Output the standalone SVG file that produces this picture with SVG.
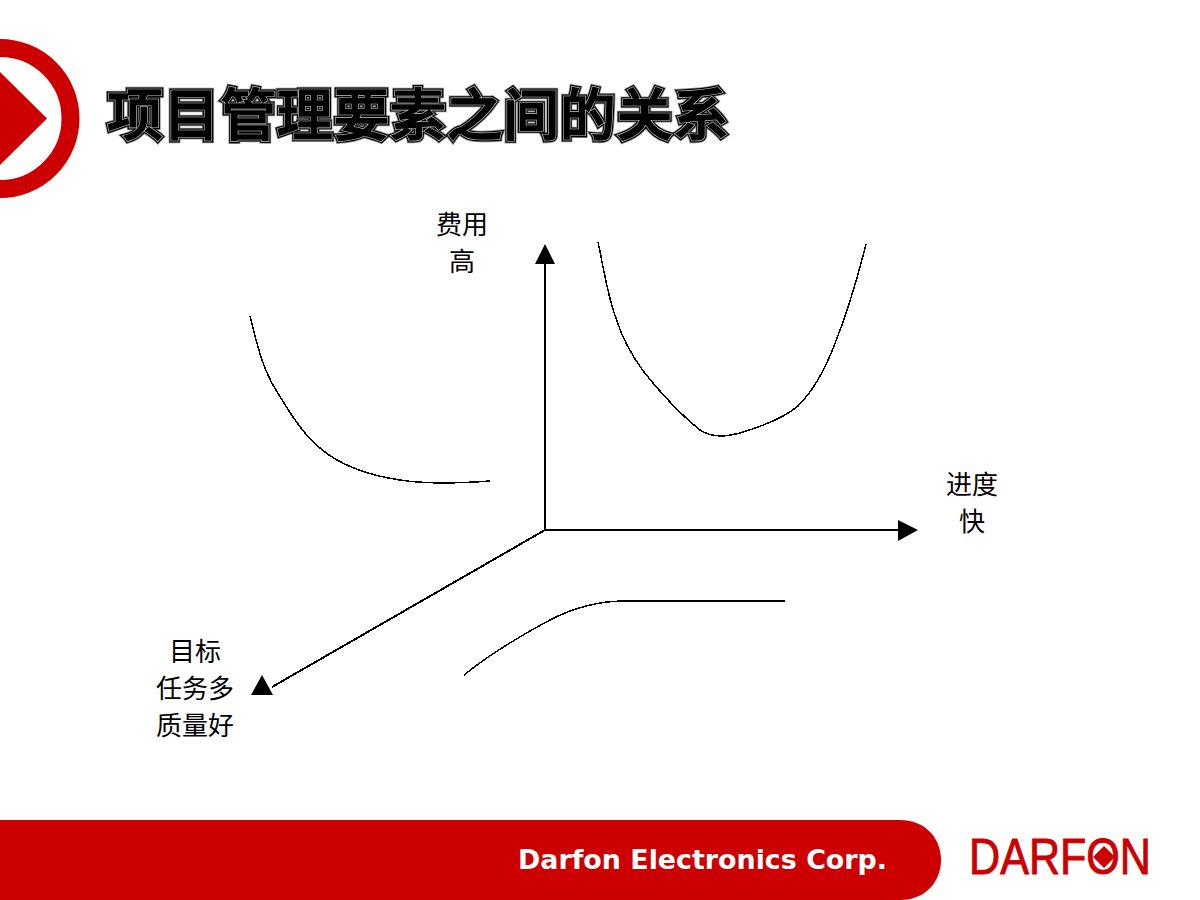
<svg xmlns="http://www.w3.org/2000/svg" width="1200" height="900" viewBox="0 0 1200 900">
<style>
.t{font-family:"Noto Sans CJK SC","Noto Sans CJK TC",sans-serif;font-weight:500;font-size:56px;letter-spacing:.6px;stroke-linejoin:miter}
.l{font-family:"Noto Sans CJK SC",sans-serif;font-size:26px;fill:#000;text-anchor:middle}
.c{fill:none;stroke:#000;stroke-width:1.5;shape-rendering:crispEdges}
.a{fill:none;stroke:#000;stroke-width:2;shape-rendering:crispEdges}
.r{fill:#c00}
</style>
<rect width="1200" height="900" fill="#fff"/>
<g id="badge">
<circle cx="0" cy="118.5" r="70.5" fill="none" stroke="#c00" stroke-width="18"/>
<polygon class="r" points="-1,71 47,118.5 -1,166"/>
</g>
<g id="title">
<text class="t" x="107" y="135" fill="#000" stroke="#999" stroke-width="6.5">项目管理要素之间的关系</text>
<text class="t" x="107" y="135" fill="#000" stroke="#000" stroke-width="5">项目管理要素之间的关系</text>
<text class="t" x="107" y="135" fill="#000" stroke="#ccc" stroke-width="2.6">项目管理要素之间的关系</text>
<text class="t" x="107" y="135" fill="#000" stroke="#000" stroke-width="1.4">项目管理要素之间的关系</text>
</g>
<g id="connectors">
<path class="a" d="M545 530V262"/>
<path class="a" d="M545 530H900"/>
<path class="a" d="M545 530L272 687"/>
<polygon points="545,244 555,264 535,264"/>
<polygon points="918,530 898,520 898,541"/>
<polygon points="262,675 273,695 251,695"/>
<path class="c" d="M250 316C256 340 262 368 276 390C288 410 304 436 320 448C340 466 372 476 400 480C425 484 450 484 490 481"/>
<path class="c" d="M598 242C604 270 608 298 616 318C622 338 632 356 644 372C660 392 680 414 700 430C712 438 726 437 740 433C760 427 784 418 798 406C812 392 824 372 834 346C846 316 856 284 866 244"/>
<path class="c" d="M464 675C490 654 520 636 550 620C575 607 600 601 625 601H785"/>
</g>
<g id="label-cost">
<text class="l" x="462" y="234">费用</text>
<text class="l" x="462" y="271">高</text>
</g>
<g id="label-schedule">
<text class="l" x="972" y="494">进度</text>
<text class="l" x="972" y="531">快</text>
</g>
<g id="label-scope">
<text class="l" x="195" y="661">目标</text>
<text class="l" x="195" y="698">任务多</text>
<text class="l" x="195" y="735">质量好</text>
</g>
<g id="footer">
<path class="r" d="M0 820H900C925 820 941 838 941 860C941 882 925 900 900 900H0Z"/>
<text x="518" y="869" font-family="DejaVu Sans" font-weight="700" font-size="26" fill="#fff" textLength="369" lengthAdjust="spacingAndGlyphs">Darfon Electronics Corp.</text>
</g>
<g id="logo">
<text x="969" y="874" font-family="Liberation Sans" font-size="50" fill="#c00" stroke="#c00" stroke-width=".9" textLength="182" lengthAdjust="spacingAndGlyphs">DARFON</text>
<polygon points="1104,846 1115,857 1104,868 1093,857" fill="#c00"/>
</g>
</svg>
